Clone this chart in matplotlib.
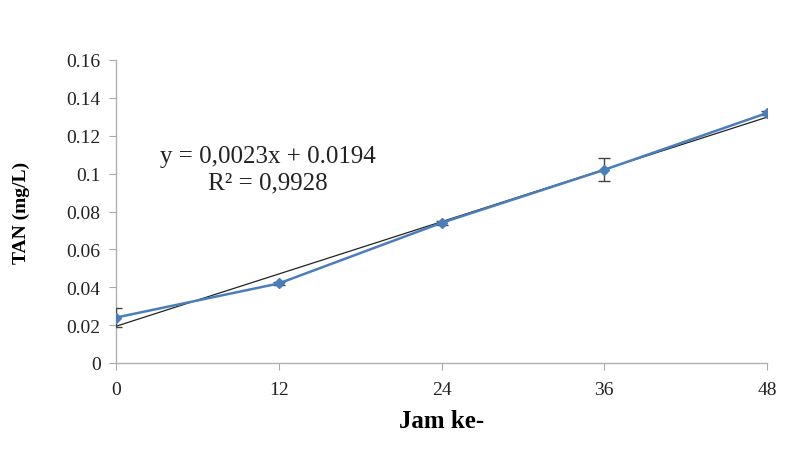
import matplotlib
matplotlib.use("Agg")
import matplotlib.pyplot as plt
import numpy as np

hours = [0, 12, 24, 36, 48]
tan_values = [0.024, 0.042, 0.074, 0.102, 0.132]
tan_err = [0.005, 0.001, 0.001, 0.006, 0.001]
trend_slope = 0.0023
trend_intercept = 0.0194
x_ticks = [0, 12, 24, 36, 48]
y_ticks = [0, 0.02, 0.04, 0.06, 0.08, 0.1, 0.12, 0.14, 0.16]
y_tick_labels = ["0", "0.02", "0.04", "0.06", "0.08", "0.1", "0.12", "0.14", "0.16"]

plt.rcParams['font.family'] = ['Liberation Serif', 'DejaVu Serif']

fig = plt.figure(figsize=(7.9, 4.56), dpi=100)
ax = fig.add_axes([116/790, 1-364/456, (767-116)/790, (364-61)/456])

xs = np.array(hours, dtype=float)
ax.plot(xs, trend_slope * xs + trend_intercept, color='#222222', lw=0.9, zorder=2)
ax.errorbar(hours, tan_values, yerr=tan_err, color='#4a7ebb', ecolor='#444444',
            elinewidth=1.0, capsize=4, capthick=1.0, marker='D', markersize=5,
            lw=1.8, zorder=3)

ax.set_xlim(0, 48)
ax.set_ylim(0, 0.16)
ax.set_xticks(x_ticks)
ax.set_xticklabels([str(t) for t in x_ticks])
ax.set_yticks(y_ticks)
ax.set_yticklabels(y_tick_labels)
ax.tick_params(axis='both', labelsize=14, colors='#222222', length=5, color='#aaaaaa')
ax.tick_params(axis='x', pad=8)
ax.tick_params(axis='y', pad=6)
for s in ['top', 'right']:
    ax.spines[s].set_visible(False)
for s in ['left', 'bottom']:
    ax.spines[s].set_color('#b0b0b0')
    ax.spines[s].set_linewidth(1.0)

ax.text(11.2, 0.1095, "y = 0,0023x + 0.0194", ha='center', va='center', fontsize=18, color='#222222')
ax.text(11.2, 0.0955, "R² = 0,9928", ha='center', va='center', fontsize=18, color='#222222')

ax.set_xlabel("Jam ke-", fontsize=18, fontweight='bold', labelpad=8)
ax.set_ylabel("TAN (mg/L)", fontsize=14, fontweight='bold', labelpad=26)

fig.savefig("out.png", dpi=100)
